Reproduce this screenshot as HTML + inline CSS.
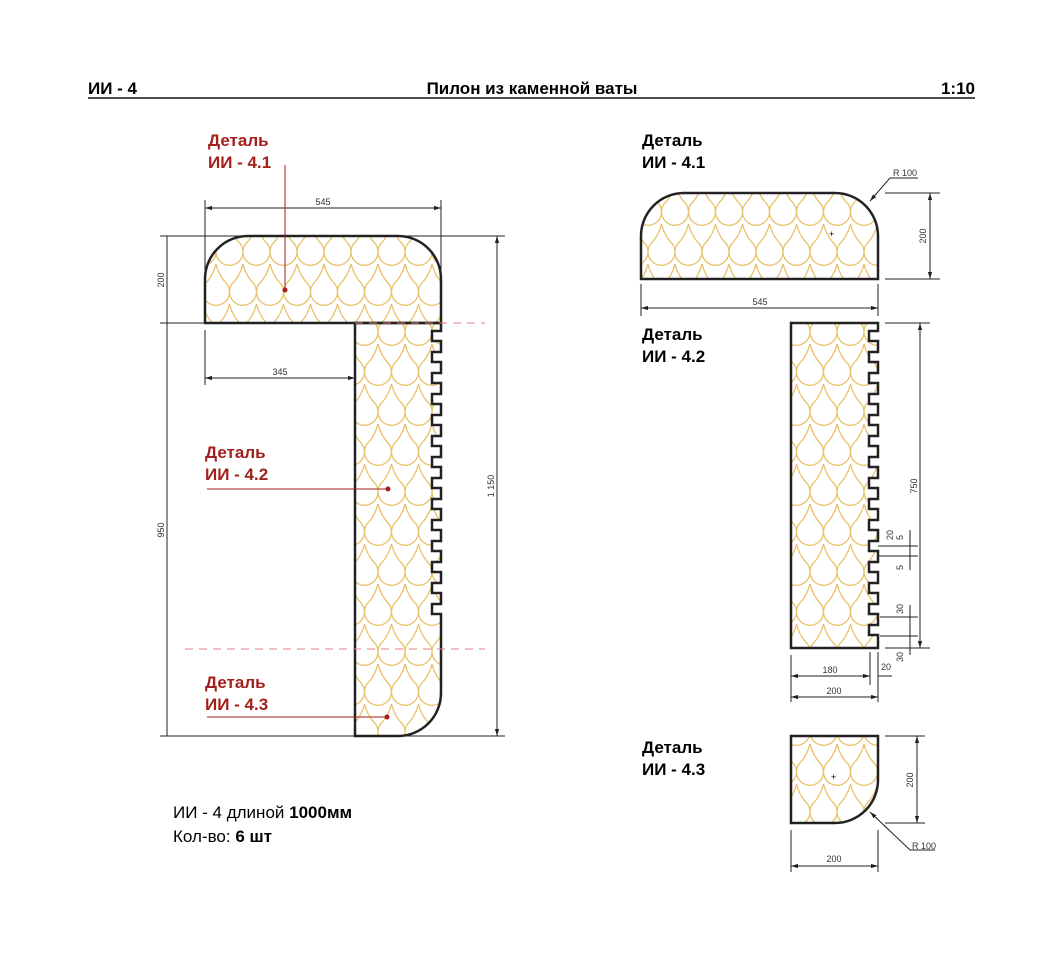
<!DOCTYPE html>
<html><head><meta charset="utf-8"><style>
html,body{margin:0;padding:0;background:#fff;}
svg{display:block;font-family:"Liberation Sans","DejaVu Sans",sans-serif;}
.b{font-weight:bold;font-size:17px;}
.r{fill:#a3201c;}
.d{font-size:9px;fill:#333;}
.dl{stroke:#222;stroke-width:1;fill:none;}
.ol{stroke:#222;stroke-width:2.5;fill:url(#wool);}
</style></head><body>
<svg width="1043" height="962" viewBox="0 0 1043 962">
<defs>
<marker id="a" viewBox="0 0 10 10" refX="10" refY="5" markerWidth="7" markerHeight="7" orient="auto-start-reverse"><path d="M0,2 L10,5 L0,8 Z" fill="#222"/></marker>
<g id="drop"><path d="M0,-28 Q3,-16 11,-8 A13.5 13.5 0 1 1 -11,-8 Q-3,-16 0,-28 Z"/></g>
<pattern id="wool" patternUnits="userSpaceOnUse" width="27" height="80" x="0" y="0">
<g fill="none" stroke="#e8c16a" stroke-width="1.3">
<use href="#drop" x="13.5" y="12"/>
<use href="#drop" x="0" y="52"/>
<use href="#drop" x="27" y="52"/>
<use href="#drop" x="13.5" y="92"/>
<use href="#drop" x="0" y="-28"/>
<use href="#drop" x="27" y="-28"/>
</g>
</pattern>
</defs>

<!-- header -->
<text x="88" y="94" class="b">ИИ - 4</text>
<text x="532" y="94" class="b" text-anchor="middle">Пилон из каменной ваты</text>
<text x="975" y="94" class="b" text-anchor="end">1:10</text>
<line x1="88" y1="98" x2="975" y2="98" stroke="#111" stroke-width="1.5"/>

<!-- LEFT DRAWING -->
<path class="ol" d="M205,323 V279 A43 43 0 0 1 248,236 H398 A43 43 0 0 1 441,279 V323 Z"/>
<path class="ol" d="M355,323 H441 V331 h-9 v10 h9 v11 h-9 v10 h9 v11 h-9 v10 h9 v11 h-9 v10 h9 v11 h-9 v10 h9 v11 h-9 v10 h9 v11 h-9 v10 h9 v11 h-9 v10 h9 v11 h-9 v10 h9 v11 h-9 v10 h9 v11 h-9 v10 h9 v11 h-9 v10 h9 v11 h-9 v10 h9 v11 h-9 v10 h9 V693 A43 43 0 0 1 398,736 H355 Z"/>
<line x1="355" y1="323" x2="485" y2="323" stroke="#e08080" stroke-width="1" stroke-dasharray="8,6"/>
<line x1="185" y1="649" x2="485" y2="649" stroke="#e08080" stroke-width="1" stroke-dasharray="8,6"/>

<!-- dims left -->
<g class="dl">
<line x1="205" y1="200" x2="205" y2="320"/>
<line x1="441" y1="200" x2="441" y2="320"/>
<line x1="205" y1="208" x2="441" y2="208" marker-start="url(#a)" marker-end="url(#a)"/>
<line x1="160" y1="236" x2="505" y2="236"/>
<line x1="160" y1="323" x2="355" y2="323"/>
<line x1="160" y1="736" x2="505" y2="736"/>
<line x1="167" y1="236" x2="167" y2="323"/>
<line x1="167" y1="323" x2="167" y2="736"/>
<line x1="497" y1="236" x2="497" y2="736" marker-start="url(#a)" marker-end="url(#a)"/>
<line x1="205" y1="330" x2="205" y2="385"/>
<line x1="205" y1="378" x2="355" y2="378" marker-start="url(#a)" marker-end="url(#a)"/>
</g>
<text x="323" y="205" class="d" text-anchor="middle">545</text>
<text x="280" y="375" class="d" text-anchor="middle">345</text>
<text x="164" y="280" class="d" text-anchor="middle" transform="rotate(-90 164 280)">200</text>
<text x="164" y="530" class="d" text-anchor="middle" transform="rotate(-90 164 530)">950</text>
<text x="494" y="486" class="d" text-anchor="middle" transform="rotate(-90 494 486)">1 150</text>

<!-- red labels -->
<text x="208" y="146" class="b r">Деталь</text>
<text x="208" y="168" class="b r">ИИ - 4.1</text>
<line x1="285" y1="165" x2="285" y2="290" stroke="#a3201c"/>
<circle cx="285" cy="290" r="2.5" fill="#a3201c"/>
<text x="205" y="458" class="b r">Деталь</text>
<text x="205" y="480" class="b r">ИИ - 4.2</text>
<line x1="207" y1="489" x2="388" y2="489" stroke="#a3201c"/>
<circle cx="388" cy="489" r="2.5" fill="#a3201c"/>
<text x="205" y="688" class="b r">Деталь</text>
<text x="205" y="710" class="b r">ИИ - 4.3</text>
<line x1="207" y1="717" x2="387" y2="717" stroke="#a3201c"/>
<circle cx="387" cy="717" r="2.5" fill="#a3201c"/>

<text x="173" y="818" font-size="17">ИИ - 4 длиной <tspan font-weight="bold">1000мм</tspan></text>
<text x="173" y="842" font-size="17">Кол-во: <tspan font-weight="bold">6 шт</tspan></text>

<!-- RIGHT 4.1 -->
<text x="642" y="146" class="b">Деталь</text>
<text x="642" y="168" class="b">ИИ - 4.1</text>
<path class="ol" d="M641,279 V236 A43 43 0 0 1 684,193 H835 A43 43 0 0 1 878,236 V279 Z"/>
<g class="dl">
<line x1="641" y1="284" x2="641" y2="316"/>
<line x1="878" y1="284" x2="878" y2="316"/>
<line x1="641" y1="308" x2="878" y2="308" marker-start="url(#a)" marker-end="url(#a)"/>
<line x1="885" y1="193" x2="940" y2="193"/>
<line x1="885" y1="279" x2="940" y2="279"/>
<line x1="930" y1="193" x2="930" y2="279" marker-start="url(#a)" marker-end="url(#a)"/>
<polyline points="870,201 890,178 918,178" marker-start="url(#a)"/>
</g>
<text x="760" y="305" class="d" text-anchor="middle">545</text>
<text x="926" y="236" class="d" text-anchor="middle" transform="rotate(-90 926 236)">200</text>
<text x="893" y="176" class="d">R 100</text>

<!-- RIGHT 4.2 -->
<text x="642" y="340" class="b">Деталь</text>
<text x="642" y="362" class="b">ИИ - 4.2</text>
<path class="ol" d="M791,323 H878 V331 h-9 v10 h9 v11 h-9 v10 h9 v11 h-9 v10 h9 v11 h-9 v10 h9 v11 h-9 v10 h9 v11 h-9 v10 h9 v11 h-9 v10 h9 v11 h-9 v10 h9 v11 h-9 v10 h9 v11 h-9 v10 h9 v11 h-9 v10 h9 v11 h-9 v10 h9 v11 h-9 v10 h9 v11 h-9 v10 h9 v11 h-9 v10 h9 V648 H791 Z" stroke-width="2"/>
<g class="dl">
<line x1="885" y1="323" x2="930" y2="323"/>
<line x1="885" y1="648" x2="930" y2="648"/>
<line x1="920" y1="323" x2="920" y2="648" marker-start="url(#a)" marker-end="url(#a)"/>
<line x1="878" y1="546" x2="918" y2="546"/><line x1="878" y1="556" x2="918" y2="556"/>
<line x1="910" y1="530" x2="910" y2="570"/>
<line x1="880" y1="617" x2="918" y2="617"/><line x1="880" y1="636" x2="918" y2="636"/>
<line x1="910" y1="605" x2="910" y2="655"/>
<line x1="791" y1="655" x2="791" y2="702"/>
<line x1="878" y1="652" x2="878" y2="702"/>
<line x1="870" y1="652" x2="870" y2="685"/>
<line x1="791" y1="676" x2="870" y2="676" marker-start="url(#a)" marker-end="url(#a)"/>
<line x1="791" y1="697" x2="878" y2="697" marker-start="url(#a)" marker-end="url(#a)"/>
<line x1="878" y1="676" x2="892" y2="676"/>
</g>
<text x="917" y="486" class="d" text-anchor="middle" transform="rotate(-90 917 486)">750</text>
<text x="893" y="540" class="d" transform="rotate(-90 893 540)">20</text>
<text x="903" y="540" class="d" transform="rotate(-90 903 540)">5</text>
<text x="903" y="570" class="d" transform="rotate(-90 903 570)">5</text>
<text x="903" y="614" class="d" transform="rotate(-90 903 614)">30</text>
<text x="903" y="662" class="d" transform="rotate(-90 903 662)">30</text>
<text x="830" y="673" class="d" text-anchor="middle">180</text>
<text x="834" y="694" class="d" text-anchor="middle">200</text>
<text x="881" y="670" class="d">20</text>

<!-- RIGHT 4.3 -->
<text x="642" y="753" class="b">Деталь</text>
<text x="642" y="775" class="b">ИИ - 4.3</text>
<path class="ol" d="M791,736 H878 V780 A43 43 0 0 1 835,823 H791 Z"/>
<g class="dl">
<line x1="885" y1="736" x2="925" y2="736"/>
<line x1="885" y1="823" x2="925" y2="823"/>
<line x1="917" y1="736" x2="917" y2="823" marker-start="url(#a)" marker-end="url(#a)"/>
<line x1="791" y1="830" x2="791" y2="872"/>
<line x1="878" y1="830" x2="878" y2="872"/>
<line x1="791" y1="866" x2="878" y2="866" marker-start="url(#a)" marker-end="url(#a)"/>
<polyline points="870,812 910,850 935,850" marker-start="url(#a)"/>
</g>
<text x="913" y="780" class="d" text-anchor="middle" transform="rotate(-90 913 780)">200</text>
<text x="834" y="862" class="d" text-anchor="middle">200</text>
<text x="912" y="849" class="d">R 100</text>
<text x="831" y="780" font-size="9">+</text>
<text x="829" y="237" font-size="9">+</text>
</svg>
</body></html>
